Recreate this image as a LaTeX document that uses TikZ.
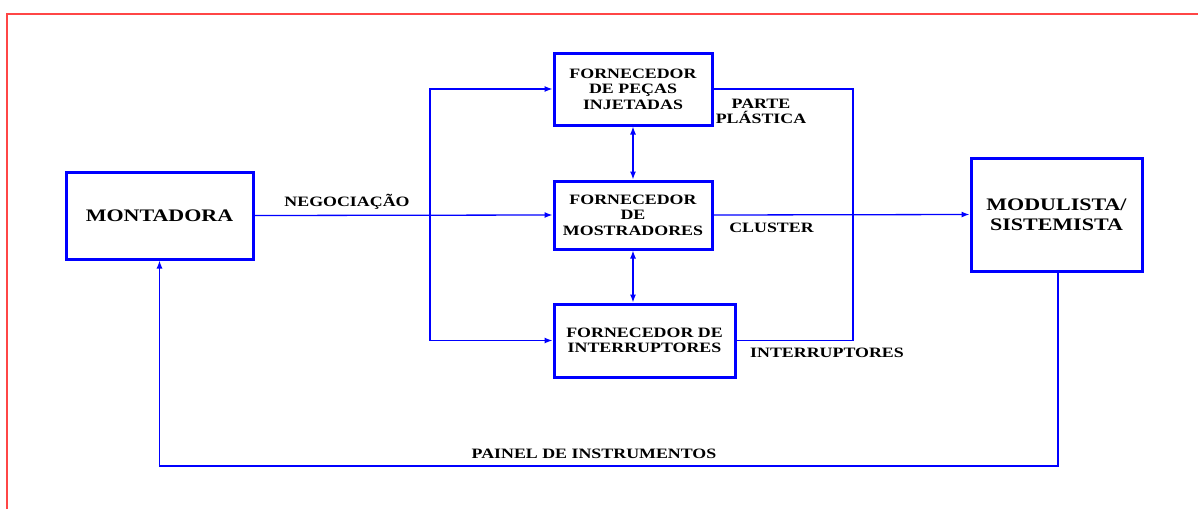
\documentclass[tikz,border=0pt]{standalone}
\usepackage{fontspec}
\usetikzlibrary{arrows.meta}
\newfontfamily\dfont{Liberation Serif}[FakeStretch=1.25]
\definecolor{frame}{RGB}{255,70,70}
\definecolor{flow}{RGB}{0,0,255}
\begin{document}
\begin{tikzpicture}[x=1pt,y=-1pt,
  box/.style={draw=flow,line width=3pt,align=center,inner sep=0pt,
    font={\dfont\bfseries\fontsize{14.3}{15.5}\selectfont}},
  bigbox/.style={box,font={\dfont\bfseries\fontsize{17.6}{20.3}\selectfont}},
  lbl/.style={inner sep=0pt,align=center,
    font={\dfont\bfseries\fontsize{14.3}{15.5}\selectfont}},
  conn/.style={draw=flow,line width=1.3pt},
  tip/.style={-{Latex[length=8pt,width=6pt]}},
  both/.style={{Latex[length=8pt,width=6pt]}-{Latex[length=8pt,width=6pt]}}]
\useasboundingbox (0,0) rectangle (1198,509);
% page frame
\draw[frame,line width=2pt] (7,509) -- (7,14) -- (1198,14);
% blocks
\node[bigbox,minimum width=187pt,minimum height=87pt] (mont) at (159.5,215.5) {MONTADORA};
\node[box,minimum width=158pt,minimum height=72pt] (inj) at (633,89) {FORNECEDOR\\DE PEÇAS\\INJETADAS};
\node[box,minimum width=158pt,minimum height=68pt] (most) at (633,215) {FORNECEDOR\\DE\\MOSTRADORES};
\node[box,minimum width=181pt,minimum height=73pt] (intr) at (644.5,340.5) {FORNECEDOR DE\\INTERRUPTORES};
\node[bigbox,minimum width=171pt,minimum height=113pt] (mod) at (1056.5,214.5) {MODULISTA/\\SISTEMISTA};
% bends of the connectors
\coordinate (lb) at (430,215);
\coordinate (rb) at (853,215);
\coordinate (bl) at (159.5,466);
\coordinate (br) at (1058,466);
% connectors
\draw[conn,tip] (mont.east) -- (most.west);
\draw[conn,both] (inj.west) -| (lb) |- (intr.west);
\draw[conn,both] (inj.south) -- (most.north);
\draw[conn,both] (most.south) -- (most.south |- intr.north);
\draw[conn] (inj.east) -| (rb) |- (intr.east);
\draw[conn,tip] (most.east) -- (mod.west);
\draw[conn,tip] (mod.south -| br) -- (br) -- (bl) -- (mont.south);
% labels
\node[lbl,anchor=base] (lneg) at (347,206.7) {NEGOCIAÇÃO};
\node[lbl] (lpart) at (761,111.3) {PARTE\\PLÁSTICA};
\node[lbl,anchor=base] (lclu) at (771.5,232.7) {CLUSTER};
\node[lbl,anchor=base] (lint) at (827,357.7) {INTERRUPTORES};
\node[lbl,anchor=base] (lpai) at (594,458.4) {PAINEL DE INSTRUMENTOS};
\end{tikzpicture}
\end{document}
